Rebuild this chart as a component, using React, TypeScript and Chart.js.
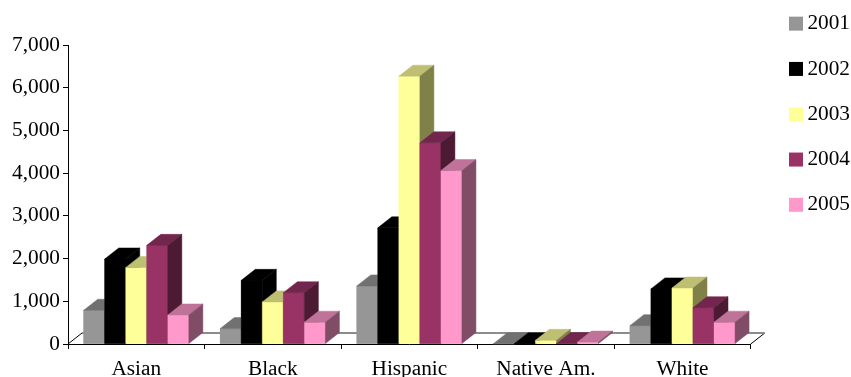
import React, { useEffect, useRef } from "react";
import { Chart, registerables } from "chart.js";

Chart.register(...registerables);

const categories = ["Asian", "Black", "Hispanic", "Native Am.", "White"];
const seriesNames = ["2001", "2002", "2003", "2004", "2005"];
const values2001 = [790, 360, 1360, 5, 430];
const values2002 = [1990, 1490, 2720, 5, 1290];
const values2003 = [1790, 985, 6270, 85, 1310];
const values2004 = [2310, 1200, 4710, 10, 850];
const values2005 = [680, 510, 4060, 45, 510];
const allValues = [values2001, values2002, values2003, values2004, values2005];

const frontColors = ["#969696", "#000000", "#FFFF99", "#993366", "#FF99CC"];
const topColors = ["#717171", "#000000", "#BFBF73", "#73264D", "#BF7399"];
const sideColors = ["#4B4B4B", "#000000", "#808049", "#4D1A33", "#804C66"];
const DX = 14;
const DY = 11;

const poly = (ctx: CanvasRenderingContext2D, pts: number[][], fill: string) => {
  ctx.beginPath();
  pts.forEach((p, i) => (i ? ctx.lineTo(p[0], p[1]) : ctx.moveTo(p[0], p[1])));
  ctx.closePath();
  ctx.fillStyle = fill;
  ctx.strokeStyle = fill;
  ctx.lineWidth = 0.5;
  ctx.fill();
  ctx.stroke();
};

const floorPlugin = {
  id: "floor3d",
  afterLayout(chart: any) {
    const lg = chart.legend;
    lg.left = 765;
    lg.right = 850;
    lg.top = -11;
    lg.bottom = 377;
    lg.width = lg.right - lg.left;
    lg.height = lg.bottom - lg.top;
  },
  beforeDatasetsDraw(chart: any) {
    const { ctx, chartArea: a } = chart;
    ctx.save();
    ctx.strokeStyle = "#000";
    ctx.lineWidth = 1;
    ctx.beginPath();
    ctx.moveTo(a.left, a.bottom);
    ctx.lineTo(a.left + DX, a.bottom - DY);
    ctx.moveTo(a.right, a.bottom);
    ctx.lineTo(a.right + DX, a.bottom - DY);
    ctx.stroke();
    ctx.strokeStyle = "#8c8c8c";
    ctx.lineWidth = 2;
    ctx.beginPath();
    ctx.moveTo(a.left + DX, a.bottom - DY);
    ctx.lineTo(a.right + DX, a.bottom - DY);
    ctx.stroke();
    ctx.restore();
  },
  afterDatasetsDraw(chart: any) {
    const { ctx } = chart;
    ctx.save();
    categories.forEach((_, c) => {
      seriesNames.forEach((_, s) => {
        const el = chart.getDatasetMeta(s).data[c];
        const l = el.x - el.width / 2;
        const r = el.x + el.width / 2;
        const t = el.y;
        const b = el.base;
        poly(ctx, [[l, t], [r, t], [r, b], [l, b]], frontColors[s]);
        poly(ctx, [[l, t], [l + DX, t - DY], [r + DX, t - DY], [r, t]], topColors[s]);
        poly(ctx, [[r, t], [r + DX, t - DY], [r + DX, b - DY], [r, b]], sideColors[s]);
      });
    });
    ctx.restore();
  },
};

export default function App() {
  const ref = useRef<HTMLCanvasElement>(null);
  useEffect(() => {
    const font = { family: "'Liberation Serif'", size: 21.3 };
    const chart = new Chart(ref.current!, {
      type: "bar",
      data: {
        labels: categories,
        datasets: seriesNames.map((name, i) => ({
          label: name,
          data: allValues[i],
          backgroundColor: frontColors[i],
          borderWidth: 0,
        })),
      },
      options: {
        responsive: false,
        animation: false,
        layout: { padding: { top: 45, right: -1, left: 0, bottom: 0 } },
        datasets: { bar: { categoryPercentage: 0.77, barPercentage: 1 } },
        plugins: {
          tooltip: { enabled: false },
          legend: {
            position: "right",
            align: "start",
            labels: {
              boxWidth: 14,
              boxHeight: 14,
              padding: 24,
              color: "#000",
              font,
              textAlign: "right",
            },
          },
        },
        scales: {
          x: {
            afterFit: (s: any) => { s.height = 33; },
            grid: { drawOnChartArea: false, drawTicks: true, tickLength: 5, color: "#000", offset: true },
            border: { color: "#000", display: true },
            ticks: { color: "#000", font, padding: 8, maxRotation: 0, autoSkip: false },
          },
          y: {
            min: 0,
            max: 7000,
            afterFit: (s: any) => { s.width = 68; },
            grid: { drawOnChartArea: false, drawTicks: true, tickLength: 5, color: "#000" },
            border: { color: "#000", display: true },
            ticks: {
              stepSize: 1000,
              color: "#000",
              font,
              padding: 3,
              callback: (v: any) => Number(v).toLocaleString("en-US"),
            },
          },
        },
      } as any,
      plugins: [floorPlugin],
    });
    return () => chart.destroy();
  }, []);
  return (
    <div style={{ position: "fixed", left: 0, top: 0, width: 851, height: 377, background: "#fff" }}>
      <canvas ref={ref} width={851} height={377} style={{ display: "block" }} />
    </div>
  );
}
